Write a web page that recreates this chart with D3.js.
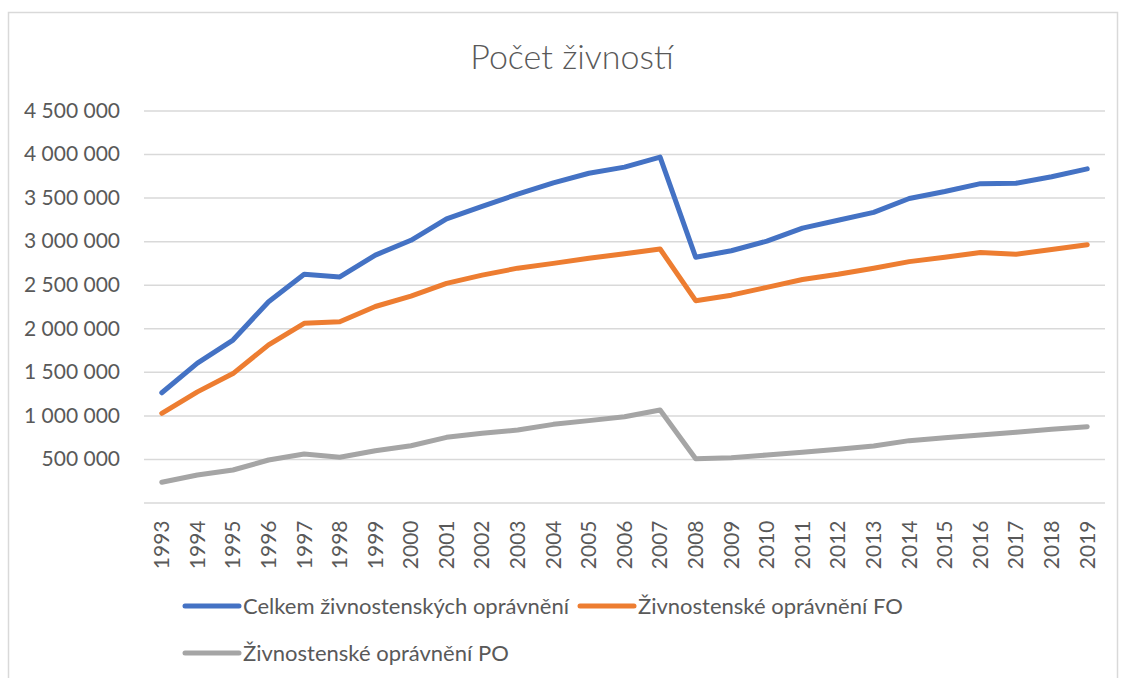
<!DOCTYPE html>
<html>
<head>
<meta charset="utf-8">
<script src="https://cdn.jsdelivr.net/npm/d3@7"></script>
<style>
  body { margin: 0; background: #fff; }
  svg text { font-family: Lato, "Open Sans", sans-serif; fill: #595959; }
</style>
</head>
<body>
<svg id="chart" width="1122" height="678"></svg>
<script>
const years = d3.range(1993, 2020).map(String);

const celkem = [1260000, 1600000, 1865000, 2305000, 2620000, 2590000, 2840000, 3010000, 3255000, 3400000,
  3540000, 3670000, 3780000, 3850000, 3965000, 2815000, 2890000, 3000000, 3150000, 3240000,
  3330000, 3490000, 3570000, 3660000, 3665000, 3740000, 3830000];

const fo = [1024000, 1270000, 1480000, 1810000, 2057000, 2075000, 2250000, 2370000, 2516000, 2610000,
  2690000, 2745000, 2805000, 2855000, 2910000, 2317000, 2380000, 2470000, 2560000, 2620000,
  2690000, 2765000, 2815000, 2870000, 2850000, 2905000, 2960000];

const po = [232000, 316000, 373000, 488000, 557000, 519000, 595000, 652000, 748000, 794000,
  832000, 897000, 940000, 985000, 1062000, 503000, 515000, 545000, 576000, 610000,
  649000, 710000, 744000, 775000, 806000, 840000, 870000];

const yTicks = [0, 500000, 1000000, 1500000, 2000000, 2500000, 3000000, 3500000, 4000000, 4500000];

const series = [
  { name: 'Celkem živnostenských oprávnění', values: celkem, color: '#4472C4' },
  { name: 'Živnostenské oprávnění FO', values: fo, color: '#ED7D31' },
  { name: 'Živnostenské oprávnění PO', values: po, color: '#A5A5A5' }
];

const svg = d3.select('#chart');
const plotLeft = 144, plotRight = 1105, plotTop = 110.5, plotBottom = 502.5;

// frame
svg.append('rect')
  .attr('x', 8.5).attr('y', 12.5)
  .attr('width', 1109).attr('height', 700)
  .attr('fill', 'none')
  .attr('stroke', '#D9D9D9')
  .attr('stroke-width', 1.5);

svg.append('text')
  .attr('x', 572)
  .attr('y', 69)
  .attr('text-anchor', 'middle')
  .style('font-size', '34px')
  .style('font-weight', 300)
  .text('Počet živností');

const x = d3.scaleBand().domain(years).range([plotLeft, plotRight]);
const y = d3.scaleLinear().domain([0, 4500000]).range([plotBottom, plotTop]);

const fmt = v => v === 0 ? '' : d3.format(',')(v).replace(/,/g, ' ');

// gridlines + y labels
const yAxis = d3.axisLeft(y).tickValues(yTicks).tickSize(-(plotRight - plotLeft)).tickFormat(fmt).tickPadding(24);
svg.append('g')
  .attr('transform', `translate(${plotLeft},0)`)
  .call(yAxis)
  .call(g => g.select('.domain').remove())
  .call(g => g.selectAll('.tick line').attr('stroke', '#D9D9D9').attr('stroke-width', 1.5))
  .call(g => g.selectAll('.tick text')
    .style('font-size', '21px')
    .attr('fill', '#595959')
    .attr('font-family', 'Lato, sans-serif'));

// x labels
const xAxis = d3.axisBottom(x).tickSize(0);
svg.append('g')
  .attr('transform', `translate(0,${plotBottom})`)
  .call(xAxis)
  .call(g => g.select('.domain').remove())
  .call(g => g.selectAll('.tick text')
    .attr('transform', 'rotate(-90)')
    .attr('x', -18)
    .attr('y', 0)
    .attr('dy', '0.35em')
    .style('text-anchor', 'end')
    .style('font-size', '21px')
    .attr('fill', '#595959')
    .attr('font-family', 'Lato, sans-serif'));

const line = d3.line()
  .x((d, i) => x(years[i]) + x.bandwidth() / 2)
  .y(d => y(d));

series.slice().reverse().forEach(s => {
  svg.append('path')
    .datum(s.values)
    .attr('d', line)
    .attr('fill', 'none')
    .attr('stroke', s.color)
    .attr('stroke-width', 5)
    .attr('stroke-linejoin', 'round')
    .attr('stroke-linecap', 'round');
});

// legend
const legendPos = [[185, 606], [580, 606], [185, 653]];
series.forEach((s, i) => {
  const [lx, ly] = legendPos[i];
  const g = svg.append('g').attr('transform', `translate(${lx},${ly})`);
  g.append('line')
    .attr('x1', 0).attr('x2', 54)
    .attr('stroke', s.color)
    .attr('stroke-width', 5)
    .attr('stroke-linecap', 'round');
  g.append('text')
    .attr('x', 58)
    .attr('dy', '0.35em')
    .style('font-size', '22px')
    .text(s.name);
});
</script>
</body>
</html>
